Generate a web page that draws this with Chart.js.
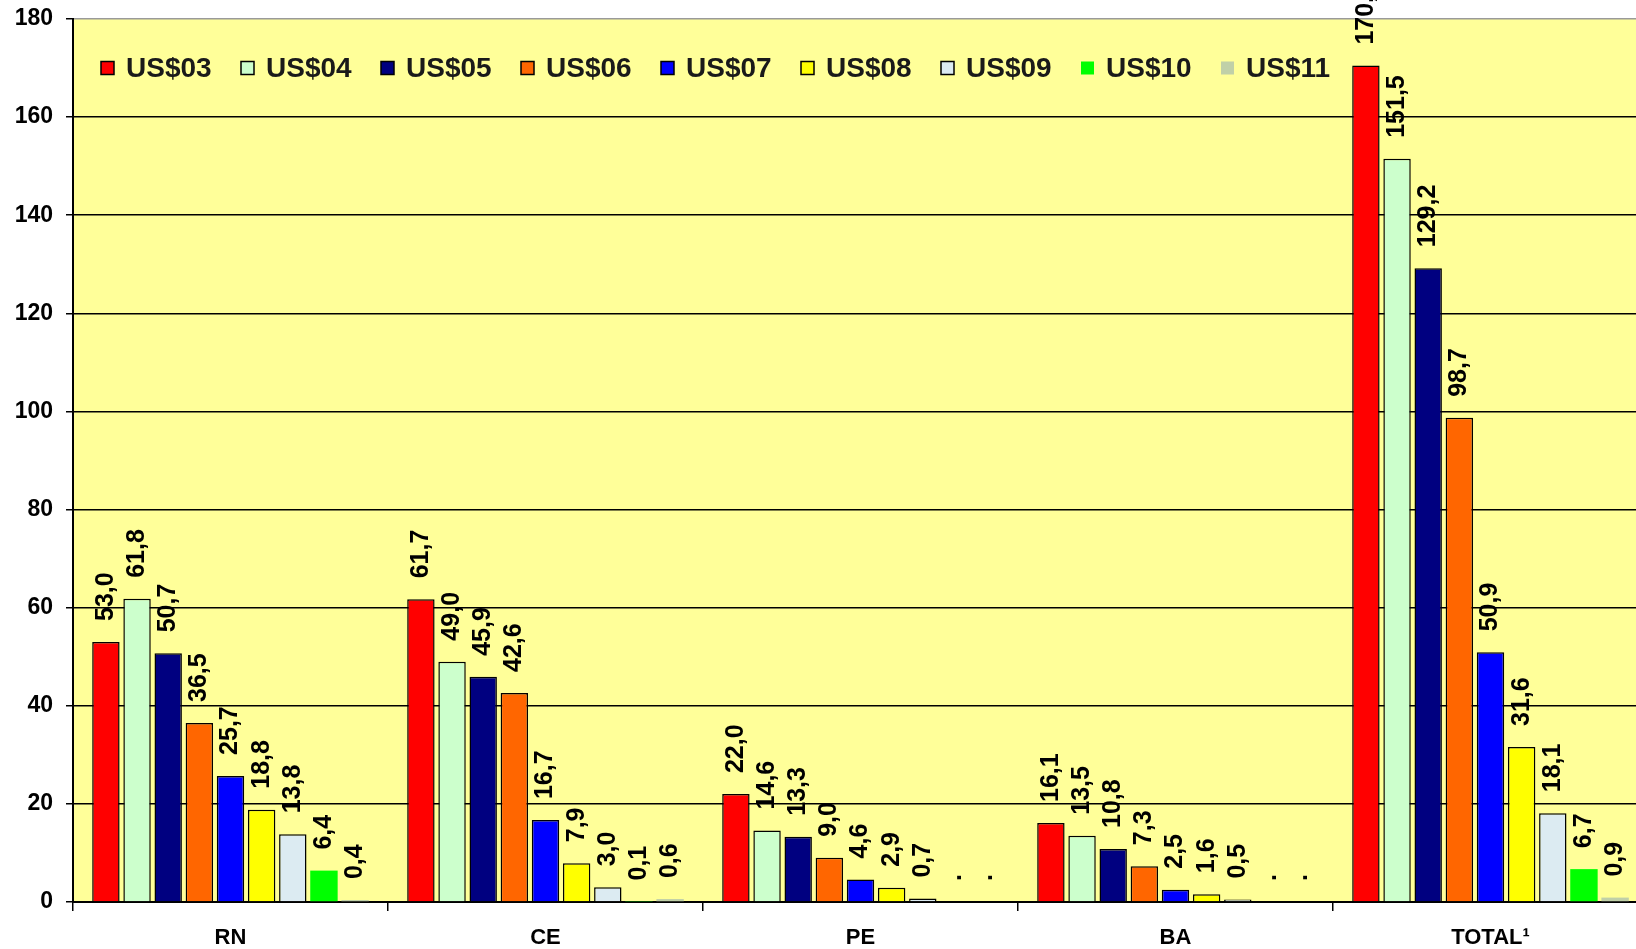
<!DOCTYPE html>
<html>
<head>
<meta charset="utf-8">
<title>US$ por estado</title>
<script src="https://cdn.jsdelivr.net/npm/chart.js@4.4.1/dist/chart.umd.min.js"></script>
<style>
  html, body { margin: 0; padding: 0; background: #fff; overflow: hidden; }
  #wrap { position: absolute; left: 0; top: 0; width: 1660px; height: 949px; }
</style>
</head>
<body>
<div id="wrap"><canvas id="chart"></canvas></div>
<script>
// categories and series (values in US$ millions)
const categories = ["RN", "CE", "PE", "BA", "TOTAL\u00b9"];
const seriesNames = ["US$03", "US$04", "US$05", "US$06", "US$07", "US$08", "US$09", "US$10", "US$11"];

// one array per state, one entry per series; null = "." (no data)
const rnValues = [53.0, 61.8, 50.7, 36.5, 25.7, 18.8, 13.8, 6.4, 0.4];
const ceValues = [61.7, 49.0, 45.9, 42.6, 16.7, 7.9, 3.0, 0.1, 0.6];
const peValues = [22.0, 14.6, 13.3, 9.0, 4.6, 2.9, 0.7, null, null];
const baValues = [16.1, 13.5, 10.8, 7.3, 2.5, 1.6, 0.5, null, null];
const totalValues = [170.5, 151.5, 129.2, 98.7, 50.9, 31.6, 18.1, 6.7, 0.9];

const yTicks = [0, 20, 40, 60, 80, 100, 120, 140, 160, 180];

const COLORS = {
  plot: "#FFFF99",
  grid: "#000000",
  topEdge: "#9a9a9a",
  text: "#000000",
  series: ["#FF0000", "#CCFFCC", "#000080", "#FF6600", "#0000FF", "#FFFF00", "#DCEBF2", "#00FF00", "#C0D0A8"],
  outlined: [true, true, true, true, true, true, true, false, false],
};

const FONT = "Arial, 'Liberation Sans', sans-serif";
Chart.defaults.font.family = FONT;

const byState = [rnValues, ceValues, peValues, baValues, totalValues];

function fmt(v) {
  if (v === null || v === undefined) return ".";
  return v.toFixed(1).replace(".", ",");
}

// yellow plot area
const plotBackground = {
  id: "plotBackground",
  beforeDraw(chart) {
    const { ctx, chartArea: a } = chart;
    ctx.save();
    ctx.fillStyle = COLORS.plot;
    ctx.fillRect(a.left, a.top, a.right - a.left, a.bottom - a.top);
    ctx.restore();
  },
};

// rotated value labels above each bar
const barLabels = {
  id: "barLabels",
  afterDatasetsDraw(chart) {
    const { ctx } = chart;
    const zeroY = chart.scales.y.getPixelForValue(0);
    ctx.save();
    ctx.font = "bold 25px " + FONT;
    ctx.fillStyle = COLORS.text;
    ctx.textAlign = "left";
    ctx.textBaseline = "middle";
    chart.data.datasets.forEach((ds, di) => {
      const meta = chart.getDatasetMeta(di);
      meta.data.forEach((bar, i) => {
        const v = ds.data[i];
        if (!isFinite(bar.x)) return;
        const top = v === null ? zeroY : bar.y;
        ctx.save();
        ctx.translate(bar.x, top - 21);
        ctx.rotate(-Math.PI / 2);
        ctx.fillText(fmt(v), 0, 0);
        ctx.restore();
      });
    });
    ctx.restore();
  },
};

// legend drawn inside the plot, top-left, one row
const insideLegend = {
  id: "insideLegend",
  afterDraw(chart) {
    const { ctx } = chart;
    const startX = 101;
    const step = 140;
    const cy = 68;
    const box = 13;
    ctx.save();
    ctx.font = "bold 28px " + FONT;
    ctx.textAlign = "left";
    ctx.textBaseline = "middle";
    chart.data.datasets.forEach((ds, i) => {
      const x = startX + i * step;
      ctx.fillStyle = ds.backgroundColor;
      ctx.fillRect(x, cy - box / 2, box, box);
      if (ds.borderWidth > 0) {
        ctx.lineWidth = 1.5;
        ctx.strokeStyle = "#000";
        ctx.strokeRect(x, cy - box / 2, box, box);
      }
      ctx.fillStyle = "#1a1a1a";
      ctx.fillText(ds.label, x + 25, cy + 1);
    });
    ctx.restore();
  },
};

const datasets = seriesNames.map((name, s) => ({
  label: name,
  data: byState.map((row) => row[s]),
  backgroundColor: COLORS.series[s],
  borderColor: "#000",
  borderWidth: COLORS.outlined[s] ? 1.5 : 0,
  borderSkipped: "bottom",
  categoryPercentage: 0.89,
  barPercentage: 0.88,
}));

new Chart(document.getElementById("chart"), {
  type: "bar",
  data: { labels: categories, datasets },
  plugins: [plotBackground, barLabels, insideLegend],
  options: {
    responsive: true,
    maintainAspectRatio: false,
    animation: false,
    layout: { padding: { top: 19, right: 12, left: 0, bottom: 0 } },
    plugins: {
      legend: { display: false },
      tooltip: { enabled: false },
    },
    scales: {
      x: {
        offset: true,
        grid: {
          offset: true,
          drawOnChartArea: false,
          drawTicks: true,
          tickLength: 9,
          color: "#000",
          lineWidth: 1.5,
        },
        border: { color: "#000", width: 2 },
        ticks: {
          color: COLORS.text,
          font: { size: 22, weight: "bold" },
          padding: 14,
          maxRotation: 0,
        },
        afterFit: (scale) => {
          scale.height = 47;
          scale.paddingLeft = 0;
          scale.paddingRight = 0;
        },
      },
      y: {
        min: 0,
        max: 180,
        afterBuildTicks: (scale) => { scale.ticks = yTicks.map((v) => ({ value: v })); },
        grid: {
          color: (c) => (c.tick && c.tick.value === 180 ? COLORS.topEdge : COLORS.grid),
          lineWidth: 1.5,
          drawTicks: true,
          tickLength: 7,
          tickColor: "#000",
        },
        border: { color: "#000", width: 2 },
        ticks: {
          color: COLORS.text,
          font: { size: 23, weight: "bold" },
          padding: 13,
        },
        afterFit: (scale) => {
          scale.width = 73;
          scale.paddingTop = 0;
          scale.paddingBottom = 0;
        },
      },
    },
  },
});
</script>
</body>
</html>
